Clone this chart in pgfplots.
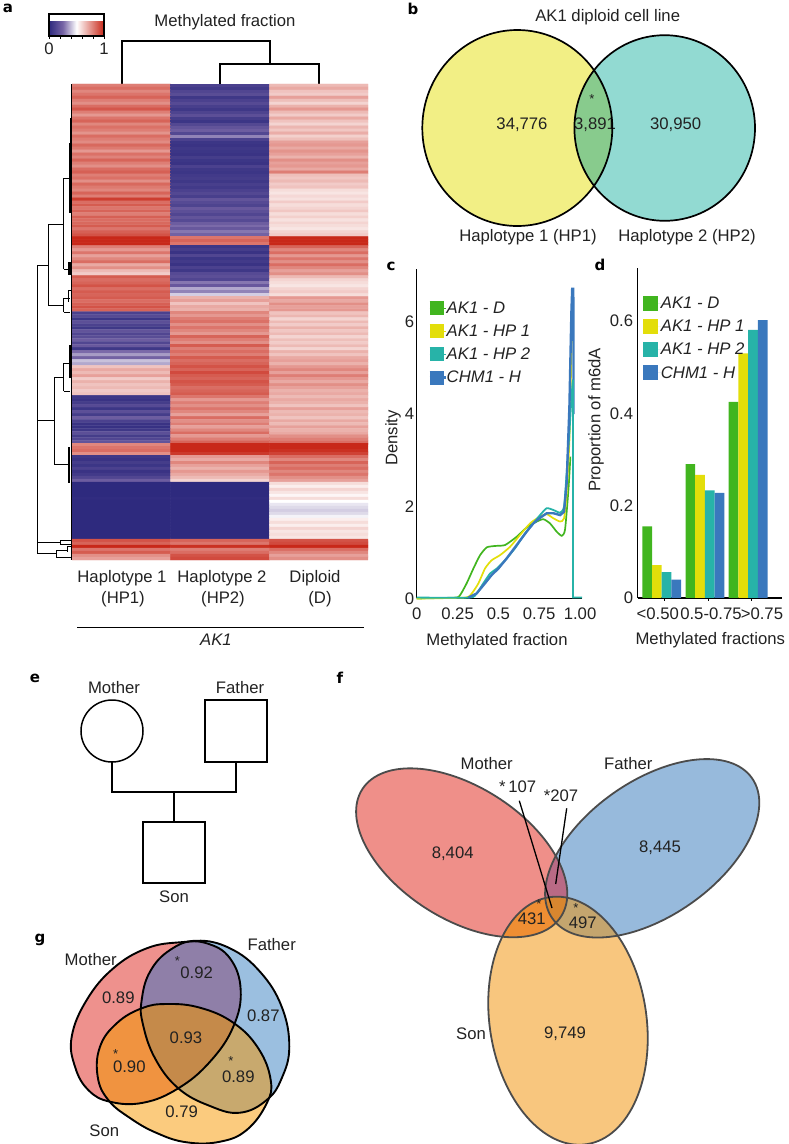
\documentclass[border=0pt]{standalone}
\usepackage{fontspec}
\usepackage{pgfplots}
\pgfplotsset{compat=1.18}
\setmainfont{Liberation Sans}
\newfontfamily\blk{DejaVu Sans Bold}
\newcommand\lab{\fontsize{16.7}{20}\selectfont}
\newcommand\pan[1]{{\blk\fontsize{15}{16}\selectfont #1}}
\definecolor{cD}{HTML}{41B51F}
\definecolor{cH}{HTML}{E3DE0A}
\definecolor{cT}{HTML}{27B3A8}
\definecolor{cC}{HTML}{3A78BD}
\definecolor{txt}{HTML}{222222}
\tikzset{lb/.style={font=\lab,text=txt,inner sep=0pt},
 st/.style={font=\fontsize{13}{14}\selectfont,text=txt,inner sep=0pt},
 eM/.style={rotate around={-32.6:(axis cs:461.7,852.8)}},
 eF/.style={rotate around={35.1:(axis cs:652.2,848.3)}},
 eS/.style={rotate around={8.6:(axis cs:568,1020.7)}}}
\def\EM{(axis cs:461.7,852.8) ellipse (118pt and 66pt)}
\def\EF{(axis cs:652.2,848.3) ellipse (122pt and 67.4pt)}
\def\ES{(axis cs:568,1020.7) ellipse (78.4pt and 124.9pt)}
\def\BL{(axis cs:517.3,128) ellipse (95pt and 98pt)}
\def\BR{(axis cs:664.7,128) ellipse (90.3pt and 92.8pt)}
% panel g blobs
\def\GM{plot[smooth cycle,tension=.7] coordinates {(axis cs:180,942.3)(axis cs:146.7,948.3)(axis cs:113.3,968.3)(axis cs:86.7,1000)(axis cs:71.7,1036.7)(axis cs:75,1066.7)(axis cs:88.3,1090)(axis cs:110,1101.7)(axis cs:143.3,1102.7)(axis cs:178.3,1088.3)(axis cs:210,1061.7)(axis cs:233.3,1026.7)(axis cs:240.7,990)(axis cs:230,958.3)(axis cs:206.7,943.3)}}
\def\GF{plot[smooth cycle,tension=.7] coordinates {(axis cs:196.7,940.7)(axis cs:230,948.3)(axis cs:260,971.7)(axis cs:281.7,1006.7)(axis cs:289.3,1046.7)(axis cs:281.7,1078.3)(axis cs:266.7,1100)(axis cs:240,1112.7)(axis cs:210,1106)(axis cs:178.3,1088.3)(axis cs:155,1058.3)(axis cs:142.7,1023.3)(axis cs:141.7,1000)(axis cs:150,971.7)(axis cs:170,950)}}
\def\GS{plot[smooth cycle,tension=.7] coordinates {(axis cs:166.7,1004)(axis cs:200,1007.7)(axis cs:233.3,1022.7)(axis cs:258.3,1048.3)(axis cs:270.7,1080)(axis cs:266.7,1103.3)(axis cs:246.7,1130)(axis cs:220,1141.7)(axis cs:186.7,1142.3)(axis cs:156.7,1133)(axis cs:130,1118)(axis cs:108.3,1100)(axis cs:97.7,1076.7)(axis cs:100,1046.7)(axis cs:116.7,1023.3)(axis cs:141.7,1008.3)}}
\begin{document}
\begin{tikzpicture}
\path[use as bounding box] (0,0) rectangle (789pt,1144pt);
% ---------- page axis: diagrams and free text
\begin{axis}[at={(0,0)},anchor=south west,scale only axis,width=789pt,height=1144pt,
 xmin=0,xmax=789,ymin=0,ymax=1144,y dir=reverse,hide axis,clip=false]
% panel letters
\node[inner sep=0pt] at (axis cs:8,8) {\pan{a}};
\node[inner sep=0pt] at (axis cs:413,9) {\pan{b}};
\node[inner sep=0pt] at (axis cs:391,266) {\pan{c}};
\node[inner sep=0pt] at (axis cs:600,265) {\pan{d}};
\node[inner sep=0pt] at (axis cs:35,678) {\pan{e}};
\node[inner sep=0pt] at (axis cs:340,678) {\pan{f}};
\node[inner sep=0pt] at (axis cs:40,940) {\pan{g}};
% panel a texts and dendrograms
\node[lb] at (axis cs:225,22) {Methylated fraction};
\draw[black,line width=1.6pt] (axis cs:122,84)--(axis cs:122,41)--(axis cs:270,41)--(axis cs:270,64);
\draw[black,line width=1.6pt] (axis cs:220,84)--(axis cs:220,64)--(axis cs:319,64)--(axis cs:319,84);
\draw[black,line width=.9pt] (axis cs:71.5,84)--(axis cs:71.5,560);
\draw[black,line width=1pt] (axis cs:37,265)--(axis cs:37,553) (axis cs:37,265)--(axis cs:48,265)
 (axis cs:48,224)--(axis cs:48,305) (axis cs:48,224)--(axis cs:63.5,224)
 (axis cs:63.5,178)--(axis cs:63.5,269) (axis cs:63.5,178)--(axis cs:69,178)
 (axis cs:63.5,269)--(axis cs:69,269) (axis cs:48,305)--(axis cs:63.5,305)
 (axis cs:63.5,298)--(axis cs:63.5,312) (axis cs:63.5,298)--(axis cs:70,298) (axis cs:63.5,312)--(axis cs:70,312)
 (axis cs:68,290)--(axis cs:68,302) (axis cs:68,290)--(axis cs:71,290)
 (axis cs:37,420)--(axis cs:54,420) (axis cs:54,377)--(axis cs:54,464)
 (axis cs:54,377)--(axis cs:63.5,377) (axis cs:63.5,363)--(axis cs:63.5,391)
 (axis cs:63.5,363)--(axis cs:69,363) (axis cs:63.5,391)--(axis cs:70,391)
 (axis cs:54,464)--(axis cs:68.5,464)
 (axis cs:37,542)--(axis cs:60,542) (axis cs:37,553)--(axis cs:56,553)
 (axis cs:60,540)--(axis cs:71,540) (axis cs:60,544)--(axis cs:71,544) (axis cs:60,540)--(axis cs:60,544)
 (axis cs:56,550)--(axis cs:56,557) (axis cs:56,550)--(axis cs:67,550) (axis cs:56,557)--(axis cs:71,557)
 (axis cs:67,546)--(axis cs:67,552) (axis cs:67,546)--(axis cs:71,546);
\draw[black,line width=2.2pt] (axis cs:69.8,143)--(axis cs:69.8,213) (axis cs:69.5,262)--(axis cs:69.5,275)
 (axis cs:70,345)--(axis cs:70,378) (axis cs:69.3,447)--(axis cs:69.3,483) (axis cs:71,118)--(axis cs:71,143);
\node[lb] at (axis cs:122,578) {Haplotype 1};
\node[lb] at (axis cs:123,599) {(HP1)};
\node[lb] at (axis cs:222,578) {Haplotype 2};
\node[lb] at (axis cs:223,599) {(HP2)};
\node[lb] at (axis cs:315,578) {Diploid};
\node[lb] at (axis cs:320,599) {(D)};
\draw[black,line width=1.1pt] (axis cs:77,627.5)--(axis cs:364,627.5);
\node[lb] at (axis cs:216,640) {\itshape AK1};
% panel b
\fill[fill={rgb,255:red,242;green,239;blue,133}] \BL;
\fill[fill={rgb,255:red,146;green,218;blue,210}] \BR;
\begin{scope}\clip \BL; \fill[fill={rgb,255:red,136;green,203;blue,141}] \BR; \end{scope}
\node[lb] at (axis cs:607.7,17) {AK1 diploid cell line};
\node[lb] at (axis cs:522,125) {34,776};
\node[lb] at (axis cs:595,125) {3,891};
\node[st] at (axis cs:592,99) {*};
\node[lb] at (axis cs:675.7,125) {30,950};
\draw[black,line width=1.7pt] \BL;
\draw[black,line width=1.7pt] \BR;
\node[lb] at (axis cs:528,237) {Haplotype 1 (HP1)};
\node[lb] at (axis cs:687,237) {Haplotype 2 (HP2)};
% panel e
\draw[black,line width=1.5pt] (axis cs:112,731) circle (31pt);
\draw[black,line width=1.5pt] (axis cs:205,700) rectangle (axis cs:267,762);
\draw[black,line width=1.5pt] (axis cs:143,822) rectangle (axis cs:205,883);
\draw[black,line width=1.5pt] (axis cs:112,762)--(axis cs:112,792)--(axis cs:236,792)--(axis cs:236,762);
\draw[black,line width=1.5pt] (axis cs:174,792)--(axis cs:174,822);
\node[lb] at (axis cs:114,688) {Mother};
\node[lb] at (axis cs:240,688) {Father};
\node[lb] at (axis cs:174,897) {Son};
% panel f
\fill[eM,fill={rgb,255:red,239;green,143;blue,137}] \EM;
\fill[eF,fill={rgb,255:red,151;green,186;blue,220}] \EF;
\fill[eS,fill={rgb,255:red,248;green,198;blue,126}] \ES;
\begin{scope}\clip[eM] \EM; \fill[eF,fill={rgb,255:red,185;green,106;blue,133}] \EF; \fill[eS,fill={rgb,255:red,239;green,142;blue,51}] \ES; \end{scope}
\begin{scope}\clip[eF] \EF; \fill[eS,fill={rgb,255:red,196;green,165;blue,110}] \ES;
 \clip[eM] \EM; \fill[eS,fill={rgb,255:red,216;green,134;blue,47}] \ES; \end{scope}
\draw[eM,draw={rgb,255:red,75;green,75;blue,75},line width=1.8pt] \EM;
\draw[eF,draw={rgb,255:red,75;green,75;blue,75},line width=1.8pt] \EF;
\draw[eS,draw={rgb,255:red,75;green,75;blue,75},line width=1.8pt] \ES;
\draw[black,line width=1.3pt] (axis cs:519.3,800.7)--(axis cs:552,908);
\draw[black,line width=1.3pt] (axis cs:566.7,808.3)--(axis cs:555.7,884);
\node[lb] at (axis cs:486.7,763.3) {Mother};
\node[lb] at (axis cs:628.3,763.3) {Father};
\node[lb] at (axis cs:517.7,786.7) {*\,107};
\node[lb] at (axis cs:561,796) {*207};
\node[lb] at (axis cs:452.7,853.3) {8,404};
\node[lb] at (axis cs:660,847.3) {8,445};
\node[lb] at (axis cs:531.7,919) {431};
\node[st] at (axis cs:539,904.5) {*};
\node[lb] at (axis cs:582.7,922.5) {497};
\node[st] at (axis cs:576,908) {*};
\node[lb] at (axis cs:565,1033.3) {9,749};
\node[lb] at (axis cs:471,1033.3) {Son};
% panel g
\fill[fill={rgb,255:red,238;green,145;blue,141}] \GM;
\fill[fill={rgb,255:red,155;green,191;blue,224}] \GF;
\fill[fill={rgb,255:red,251;green,203;blue,126}] \GS;
\begin{scope}\clip \GM; \fill[fill={rgb,255:red,143;green,127;blue,168}] \GF; \fill[fill={rgb,255:red,240;green,147;blue,64}] \GS; \end{scope}
\begin{scope}\clip \GF; \fill[fill={rgb,255:red,200;green,169;blue,110}] \GS;
 \clip \GM; \fill[fill={rgb,255:red,197;green,138;blue,74}] \GS; \end{scope}
\draw[black,line width=1.9pt] \GM;
\draw[black,line width=1.9pt] \GF;
\draw[black,line width=1.9pt] \GS;
\node[lb] at (axis cs:90.7,960) {Mother};
\node[lb] at (axis cs:271.7,945) {Father};
\node[lb] at (axis cs:104.3,1130.7) {Son};
\node[lb] at (axis cs:118.3,997.7) {0.89};
\node[lb] at (axis cs:196.7,972.7) {0.92};
\node[st] at (axis cs:177.3,961) {*};
\node[lb] at (axis cs:263.3,1016) {0.87};
\node[lb] at (axis cs:186,1037.3) {0.93};
\node[lb] at (axis cs:129.3,1066.7) {0.90};
\node[st] at (axis cs:115.7,1054) {*};
\node[lb] at (axis cs:238.3,1076.5) {0.89};
\node[st] at (axis cs:231,1061.5) {*};
\node[lb] at (axis cs:181.7,1111.7) {0.79};
\end{axis}
% ---------- panel a heat map
\begin{axis}[at={(72pt,584pt)},anchor=south west,scale only axis,width=296pt,height=476pt,
 xmin=-.5,xmax=2.5,ymin=-.5,ymax=158.5,y dir=reverse,xtick=\empty,ytick=\empty,axis line style={draw=none},
 colormap={hm}{rgb255(0cm)=(46,42,126); rgb255(.5cm)=(118,100,165); rgb255(1cm)=(255,255,255); rgb255(2cm)=(200,40,25)},
 point meta min=0,point meta max=1,
 colorbar horizontal,
 colorbar style={at={(-.0777,1.1008)},anchor=south west,width=55pt,height=22pt,
  xtick={0,.2,.4,.6,.8,1},xticklabels={0,,,,,1},tick align=outside,xtick pos=bottom,
  major tick length=3pt,
  tick style={black,line width=1pt},axis line style={black,line width=1.2pt},
  tick label style={font=\lab,text=txt,inner sep=1pt},xticklabel style={yshift=-3pt}}]
\addplot[matrix plot*,mesh/cols=3,point meta=explicit] table[row sep=crcr,x expr={\coordindex-3*floor((\coordindex+.5)/3)},y expr={floor((\coordindex+.5)/3)},meta=c]{
c\\
.80\\.10\\.66\\
.84\\.07\\.70\\
.78\\.12\\.64\\
.82\\.15\\.62\\
.86\\.06\\.72\\
.80\\.10\\.65\\
.76\\.14\\.60\\
.84\\.09\\.68\\
.89\\.06\\.74\\
.80\\.11\\.66\\
.74\\.16\\.62\\
.82\\.08\\.70\\
.86\\.05\\.64\\
.78\\.13\\.60\\
.83\\.18\\.67\\
.80\\.22\\.63\\
.75\\.13\\.69\\
.84\\.30\\.61\\
.80\\.10\\.65\\
.77\\.05\\.72\\
.85\\.04\\.74\\
.81\\.06\\.70\\
.74\\.05\\.75\\
.83\\.04\\.72\\
.79\\.08\\.68\\
.86\\.05\\.76\\
.80\\.04\\.72\\
.76\\.10\\.74\\
.84\\.06\\.70\\
.87\\.05\\.80\\
.80\\.07\\.65\\
.83\\.08\\.63\\
.76\\.06\\.66\\
.85\\.09\\.62\\
.81\\.07\\.64\\
.78\\.10\\.58\\
.86\\.13\\.56\\
.80\\.09\\.59\\
.95\\.18\\.57\\
.84\\.14\\.62\\
.88\\.11\\.58\\
.82\\.20\\.60\\
.86\\.16\\.63\\
.80\\.12\\.58\\
.87\\.18\\.61\\
.84\\.14\\.57\\
.85\\.22\\.60\\
.88\\.26\\.58\\
.82\\.20\\.56\\
.87\\.28\\.60\\
.90\\.24\\.62\\
1\\.82\\1\\
1\\.86\\1\\
1\\.82\\1\\
.80\\.05\\.86\\
.74\\.08\\.78\\
.82\\.04\\.84\\
.72\\.12\\.74\\
.78\\.05\\.82\\
.84\\.07\\.76\\
.70\\.04\\.84\\
.76\\.10\\.78\\
.66\\.06\\.72\\
.62\\.14\\.76\\
.88\\.16\\.66\\
.84\\.12\\.60\\
.86\\.28\\.58\\
.90\\.20\\.56\\
.84\\.36\\.60\\
.88\\.30\\.62\\
.86\\.42\\.58\\
.88\\.68\\.74\\
.84\\.72\\.70\\
.87\\.64\\.76\\
.90\\.70\\.72\\
.86\\.68\\.74\\
.10\\.78\\.64\\
.14\\.74\\.67\\
.05\\.80\\.60\\
.16\\.83\\.66\\
.10\\.76\\.62\\
.06\\.82\\.68\\
.18\\.78\\.63\\
.12\\.74\\.66\\
.15\\.86\\.60\\
.22\\.80\\.65\\
.12\\.76\\.62\\
.20\\.88\\.66\\
.06\\.80\\.60\\
.26\\.84\\.68\\
.34\\.80\\.64\\
.24\\.88\\.70\\
.40\\.84\\.72\\
.36\\.86\\.68\\
.64\\.90\\.74\\
.70\\.86\\.78\\
.66\\.92\\.72\\
.72\\.88\\.80\\
.62\\.86\\.74\\
.68\\.90\\.70\\
.64\\.88\\.76\\
.66\\.84\\.72\\
.62\\.86\\.68\\
.64\\.88\\.70\\
.06\\.82\\.66\\
.04\\.74\\.70\\
.08\\.80\\.68\\
.14\\.76\\.64\\
.05\\.82\\.72\\
.16\\.78\\.66\\
.08\\.72\\.68\\
.22\\.84\\.64\\
.10\\.76\\.70\\
.04\\.80\\.66\\
.03\\.72\\.72\\
.06\\.78\\.68\\
.16\\.84\\.70\\
.08\\.74\\.76\\
.12\\.80\\.80\\
.18\\.86\\.84\\
.78\\1\\1\\
.82\\1\\1\\
.84\\1\\.98\\
.76\\.96\\.94\\
.06\\.74\\.84\\
.04\\.70\\.78\\
.08\\.78\\.86\\
.05\\.72\\.80\\
.10\\.68\\.84\\
.04\\.74\\.78\\
.07\\.70\\.82\\
.12\\.66\\.76\\
.22\\.60\\.72\\
0\\0\\.58\\
0\\0\\.54\\
0\\0\\.60\\
0\\0\\.56\\
0\\0\\.52\\
.01\\.01\\.58\\
0\\0\\.50\\
0\\0\\.46\\
0\\0\\.44\\
0\\0\\.42\\
0\\0\\.44\\
0\\0\\.48\\
0\\0\\.54\\
0\\0\\.58\\
0\\0\\.54\\
0\\0\\.60\\
0\\0\\.56\\
0\\0\\.58\\
0\\0\\.56\\
.90\\.86\\.90\\
.86\\.82\\.92\\
1\\.98\\1\\
.82\\.80\\.84\\
.88\\.84\\.78\\
.76\\.90\\.72\\
.72\\.92\\.76\\
};
\end{axis}
% ---------- panel c
\begin{axis}[at={(416.7pt,545.5pt)},anchor=south west,scale only axis,width=165.3pt,height=329.5pt,
 xmin=0,xmax=1.012,ymin=0,ymax=7.15,axis x line*=bottom,axis y line*=left,
 axis line style={black,line width=1.5pt,-},major tick length=0pt,
 xtick={0,.25,.5,.75,1},xticklabels={0,0.25,0.5,0.75,1.00},
 ytick={0,2,4,6},yticklabels={0,2,4,6},
 tick label style={font=\lab,text=txt},
 xticklabel style={yshift=-6pt},yticklabel style={xshift=1pt},
 xlabel={Methylated fraction},ylabel={Density},
 label style={font=\lab,text=txt},
 xlabel style={at={(axis description cs:.486,-.129)},anchor=center},
 ylabel style={at={(axis description cs:-.143,.487)},anchor=center},
 legend style={at={(axis cs:.07,6.44)},anchor=north west,draw=none,fill=none,inner sep=0pt,font=\lab\itshape,
  row sep=10pt,legend cell align=left,nodes={inner sep=0pt,text=txt}},
 legend image code/.code={\draw[#1,line width=14pt,overlay] (0pt,0pt)--(14pt,0pt);\path (0pt,0pt)--(16pt,0pt);},
 clip=false]
\addplot[cD,line width=1.7pt,smooth,tension=.35] coordinates {(0,0)(.235,.02)(.265,.07)(.306,.33)(.347,.65)(.388,.94)(.429,1.11)(.48,1.14)(.541,1.16)(.612,1.34)(.673,1.54)(.735,1.67)(.776,1.72)(.816,1.63)(.857,1.45)(.888,1.36)(.908,1.49)(.929,2.36)(.941,3.08)};
\addplot[cH,line width=1.7pt,smooth,tension=.35] coordinates {(0,0)(.296,.02)(.337,.11)(.378,.33)(.418,.65)(.459,.83)(.51,.94)(.571,1.12)(.633,1.38)(.694,1.63)(.755,1.78)(.796,1.83)(.837,1.74)(.878,1.67)(.902,1.74)(.918,2.28)(.935,3.44)(.949,5.6)};
\addplot[cT,line width=1.8pt,smooth,tension=.3] coordinates {(0,.02)(.327,.02)(.367,.11)(.408,.33)(.449,.54)(.49,.65)(.541,.83)(.602,1.09)(.663,1.41)(.714,1.63)(.755,1.81)(.796,1.96)(.837,1.92)(.878,1.86)(.902,1.99)(.918,2.72)(.935,3.6)(.948,4.4)(.957,4.75)};
\addplot[cC,line width=2.4pt] coordinates {(.316,.02)(.367,.11)(.418,.33)(.459,.51)(.5,.65)(.551,.87)(.612,1.16)(.673,1.45)(.714,1.63)(.755,1.75)(.796,1.85)(.837,1.85)(.878,1.81)(.902,1.88)(.918,2.5)(.935,4.17)(.947,6.2)(.952,6.72)(.958,6.72)(.96,6.2)(.96,4)};
\addplot[cT,line width=1.8pt,forget plot] coordinates {(.955,4.6)(.957,4.75)(.957,.02)(1.012,.02)};
\legend{AK1 - D,AK1 - HP 1,AK1 - HP 2,CHM1 - H}
\end{axis}
% ---------- panel d
\begin{axis}[at={(637.7pt,546pt)},anchor=south west,scale only axis,width=144.3pt,height=330pt,
 xmin=-.556,xmax=2.785,ymin=0,ymax=.715,axis x line*=bottom,axis y line*=left,
 axis line style={black,line width=1.5pt,-},major tick length=0pt,
 ybar=0pt,bar width=9.7pt,
 xtick={-.09,1.14,2.32},xticklabels={<0.50,0.5-0.75,>0.75},
 minor xtick={.07,1.09,2.09},minor tick length=3pt,
 minor tick style={black,line width=1pt},
 ytick={0,.2,.4,.6},yticklabels={0,0.2,0.4,0.6},
 tick label style={font=\lab,text=txt},
 xticklabel style={yshift=-6pt},yticklabel style={xshift=-1pt},
 xlabel={Methylated fractions},ylabel={Proportion of m6dA},
 label style={font=\lab,text=txt},
 xlabel style={at={(axis description cs:.503,-.129)},anchor=center},
 ylabel style={at={(axis description cs:-.289,.54)},anchor=center},
 legend style={at={(axis cs:-.433,.652)},anchor=north west,draw=none,fill=none,inner sep=0pt,font=\lab\itshape,
  row sep=10pt,legend cell align=left,nodes={inner sep=0pt,text=txt}},
 legend image code/.code={\fill[#1,overlay] (0pt,-7.5pt) rectangle (15pt,7.5pt);\path (0pt,0pt)--(17.7pt,0pt);},
 clip=false]
\addplot[draw=none,fill=cD] coordinates {(0,.155)(1,.29)(2,.425)};
\addplot[draw=none,fill=cH] coordinates {(0,.071)(1,.267)(2,.53)};
\addplot[draw=none,fill=cT] coordinates {(0,.056)(1,.233)(2,.581)};
\addplot[draw=none,fill=cC] coordinates {(0,.04)(1,.228)(2,.602)};
\legend{AK1 - D,AK1 - HP 1,AK1 - HP 2,CHM1 - H}
\end{axis}
\end{tikzpicture}
\end{document}
